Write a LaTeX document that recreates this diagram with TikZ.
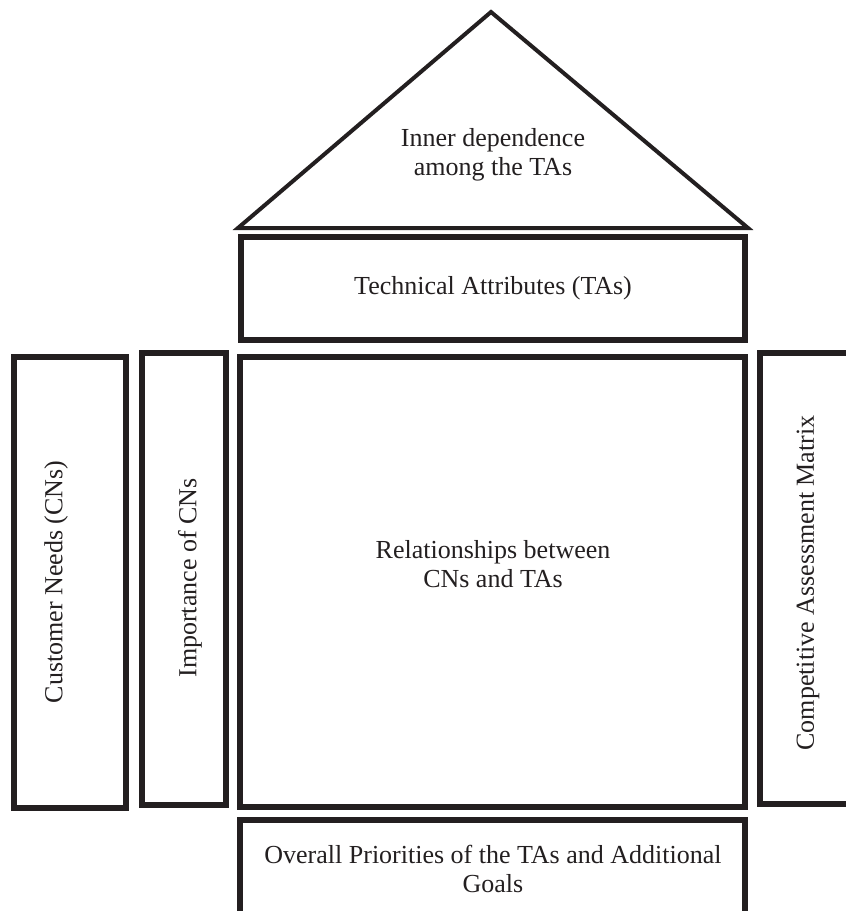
\documentclass[tikz,border=0pt]{standalone}
\usepackage{fontspec}
\setmainfont{Liberation Serif}
\definecolor{inkgray}{HTML}{231F20}

\begin{document}
\begin{tikzpicture}[x=1pt,y=-1pt]
                        \tikzstyle{every node}=[font=\fontsize{26}{29}\selectfont, text=inkgray, align=center]
                        \tikzstyle{box}=[draw=inkgray, line width=6pt, inner sep=0pt]
                        \tikzstyle{roof}=[draw=inkgray, line width=4pt, line join=miter]
                        \useasboundingbox (0,0) rectangle (846,911);
                        % roof
                        \coordinate (apex) at (491,12);
                        \coordinate (eaveL) at (238,228);
                        \coordinate (eaveR) at (748,228);
                        \draw[roof] (eaveL) -- (apex) -- (eaveR) -- cycle;
                        \node (inner) at (493,155) {Inner dependence\\among the TAs};
                        % rows
                        \node[box, minimum width=504, minimum height=103] (tas) at (493,288.5) {Technical Attributes (TAs)};
                        \node[box, minimum width=505, minimum height=450] (rel) at (492.5,582) {};
                        \node (reltext) at (493,564) {Relationships between\\CNs and TAs};
                        \node[box, minimum width=505, minimum height=95] (prio) at (492.5,867.5) {};
                        \node (priotext) at (493,869) {Overall Priorities of the TAs and Additional\\Goals};
                        % side columns
                        \node[box, rotate=90, minimum width=451, minimum height=112] (cns) at (70,582.5) {};
                        \node[rotate=90] (cnstext) at (56,582) {Customer Needs (CNs)};
                        \node[box, rotate=90, minimum width=452, minimum height=84] (imp) at (184,579) {};
                        \node[rotate=90] (imptext) at (190,578) {Importance of CNs};
                        \node[box, rotate=90, minimum width=451, minimum height=96] (cam) at (808,578.5) {};
                        \node[rotate=90] (camtext) at (808,583) {Competitive Assessment Matrix};
                    \end{tikzpicture}
\end{document}
